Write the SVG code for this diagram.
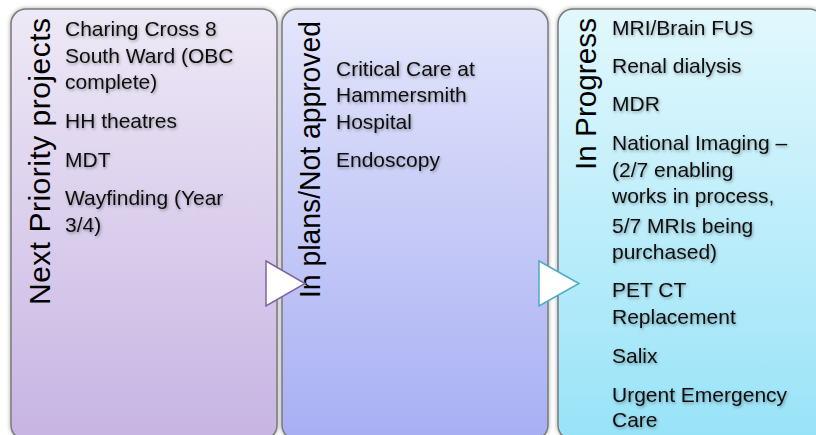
<svg xmlns="http://www.w3.org/2000/svg" width="816" height="435" viewBox="0 0 816 435">
<defs>
<linearGradient id="g1" x1="0" y1="0" x2="0" y2="1"><stop offset="0" stop-color="#eee9f6"/><stop offset="1" stop-color="#c7b4e3"/></linearGradient>
<linearGradient id="g2" x1="0" y1="0" x2="0" y2="1"><stop offset="0" stop-color="#e4e6fb"/><stop offset="1" stop-color="#a7aff3"/></linearGradient>
<linearGradient id="g3" x1="0" y1="0" x2="0" y2="1"><stop offset="0" stop-color="#e2f8fd"/><stop offset="1" stop-color="#98e3f8"/></linearGradient>
<filter id="bs" x="-5%" y="-5%" width="110%" height="110%"><feDropShadow dx="0" dy="0" stdDeviation="2" flood-color="#000" flood-opacity="0.35"/></filter>
<filter id="ts" x="-10%" y="-30%" width="120%" height="160%"><feDropShadow dx="1" dy="1.5" stdDeviation="1.5" flood-color="#000" flood-opacity="0.35"/></filter>
</defs>
<style>
.box{stroke:#7a7a7a;stroke-width:1.5}
.title{font-family:"Liberation Sans",Arial,sans-serif;font-size:30px;fill:#000;text-anchor:end}
.body{font-family:"Liberation Sans",Arial,sans-serif;font-size:21px;fill:#111;filter:url(#ts)}
</style>
<rect width="816" height="435" fill="#ffffff"/>
<g id="node-next">
<rect class="box" x="11" y="9" width="266" height="431" rx="15" fill="url(#g1)" filter="url(#bs)"/>
<text class="title" transform="translate(50,18) rotate(-90)" textLength="287" lengthAdjust="spacing">Next Priority projects</text>
<text class="body" x="65"><tspan x="65" y="36">Charing Cross 8</tspan><tspan x="65" y="63">South Ward (OBC</tspan><tspan x="65" y="89">complete)</tspan><tspan x="65" y="128">HH theatres</tspan><tspan x="65" y="167">MDT</tspan><tspan x="65" y="205">Wayfinding (Year</tspan><tspan x="65" y="232">3/4)</tspan></text>
</g>
<g id="node-plans">
<rect class="box" x="282" y="9" width="266" height="431" rx="15" fill="url(#g2)" filter="url(#bs)"/>
<text class="title" transform="translate(320,21) rotate(-90)" textLength="277" lengthAdjust="spacingAndGlyphs">In plans/Not approved</text>
<text class="body"><tspan x="336" y="76">Critical Care at</tspan><tspan x="336" y="102">Hammersmith</tspan><tspan x="336" y="129">Hospital</tspan><tspan x="336" y="167">Endoscopy</tspan></text>
</g>
<g id="node-progress">
<rect class="box" x="558" y="9" width="266" height="431" rx="15" fill="url(#g3)" filter="url(#bs)"/>
<text class="title" transform="translate(596,18) rotate(-90)" textLength="152" lengthAdjust="spacingAndGlyphs">In Progress</text>
<text class="body"><tspan x="612" y="35">MRI/Brain FUS</tspan><tspan x="612" y="73">Renal dialysis</tspan><tspan x="612" y="111">MDR</tspan><tspan x="612" y="150">National Imaging –</tspan><tspan x="612" y="177">(2/7 enabling</tspan><tspan x="612" y="203">works in process,</tspan><tspan x="612" y="233">5/7 MRIs being</tspan><tspan x="612" y="259">purchased)</tspan><tspan x="612" y="297">PET CT</tspan><tspan x="612" y="324">Replacement</tspan><tspan x="612" y="363">Salix</tspan><tspan x="612" y="402">Urgent Emergency</tspan><tspan x="612" y="427">Care</tspan></text>
</g>
<g id="connectors">
<polygon points="266,261 305,283.5 266,306" fill="#ffffff" stroke="#8064a2" stroke-width="1.5"/>
<polygon points="539,261 579,283.5 539,306" fill="#ffffff" stroke="#4bacc6" stroke-width="1.5"/>
</g>
</svg>
